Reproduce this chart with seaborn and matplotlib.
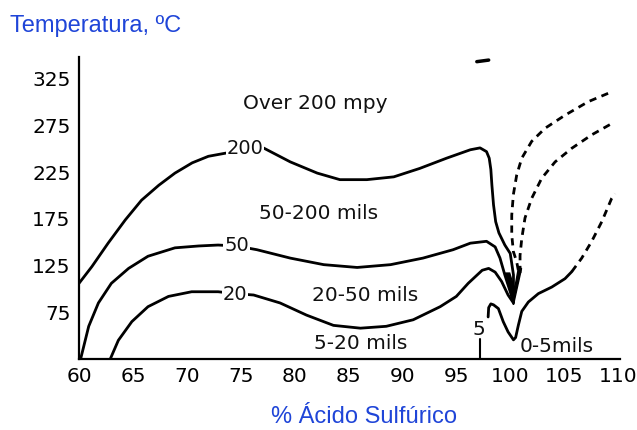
import matplotlib
matplotlib.use('Agg')

import matplotlib.pyplot as plt
import seaborn as sns
import pandas as pd

# iso-corrosion curves (x = % sulfuric acid, y = temperature C)
c200_x = [60.0, 61.2, 62.7, 64.3, 65.8, 67.4, 68.9, 70.5, 72.0, 73.9, 75.4, 77.1,
          79.6, 82.1, 84.2, 86.7, 89.2, 91.6, 94.1, 96.3, 97.2, 97.8, 98.05, 98.2,
          98.3, 98.45, 98.65, 98.95, 99.5, 100.0, 100.3, 100.3]
c200_y = [106, 124, 149, 174, 195, 211, 224, 235, 242, 246, 249, 251,
          236, 224, 217, 217, 220, 229, 240, 249, 251, 247, 240, 228,
          211, 190, 172, 160, 147, 138, 115, 86]

c50_x = [60.15, 60.9, 61.8, 63.0, 64.6, 66.4, 68.9, 71.1, 72.9, 74.6, 76.5, 79.6,
         82.7, 85.8, 88.9, 91.9, 94.7, 96.3, 97.8, 98.6, 99.05, 99.5, 100.0, 100.3]
c50_y = [25, 60, 85, 106, 122, 135, 144, 146, 147, 146, 142, 133,
         126, 123, 126, 133, 142, 149, 151, 145, 133, 115, 97, 86]

c20_x = [62.9, 63.65, 64.9, 66.4, 68.3, 70.45, 72.9, 74.5, 76.2, 78.65, 81.1, 83.6,
         86.1, 88.5, 91.0, 93.5, 95.0, 96.1, 97.4, 98.0, 98.6, 99.2, 99.8, 100.3]
c20_y = [25, 45, 65, 81, 92, 97, 97, 95, 93.5, 85, 72, 61,
         58, 60, 67, 81, 92, 106, 120, 122, 118, 108, 93.5, 85]

c5_x = [97.95, 98.0, 98.2, 98.45, 98.9, 99.35, 99.8, 100.3, 100.5, 100.75, 101.07,
        101.68, 102.61, 103.85, 105.08, 105.71]
c5_y = [70, 80, 84, 83, 79, 65, 54, 45.5, 48, 61, 76,
        86, 95, 102, 111, 118.5]

c5_dash_x = [105.71, 106.63, 107.56, 108.49, 109.41, 109.72]
c5_dash_y = [118.5, 133, 151, 172, 197, 202]

d1_x = [100.75, 100.6, 100.29, 100.14, 100.14, 100.29, 100.6, 101.07, 101.99,
        103.23, 105.08, 107.24, 109.41]
d1_y = [120, 129, 140, 158, 179, 201, 222, 240, 258, 272, 286, 300.5, 311]

d2_x = [100.91, 100.91, 101.07, 101.37, 101.99, 102.92, 104.16, 105.71, 107.56, 109.41]
d2_y = [117, 136, 154, 176, 197, 218.5, 236, 250.6, 265, 277]

# blotted notch where the curves meet near 100 %
notch_x = [99.55, 100.3, 101.05, 100.75, 100.4, 99.95]
notch_y = [117, 83, 122, 122, 100, 117]

x_ticks = [60, 65, 70, 75, 80, 85, 90, 95, 100, 105, 110]
y_ticks = [75, 125, 175, 225, 275, 325]

# region / curve labels: (text, x, y)
labels = [
    ('Over 200 mpy', 81.9, 299),
    ('50-200 mils', 82.2, 181),
    ('20-50 mils', 86.5, 93),
    ('5-20 mils', 86.1, 42),
    ('0-5mils', 104.3, 38),
    ('5', 97.1, 57),
]
curve_labels = [('200', 75.4, 250), ('50', 74.6, 146), ('20', 74.5, 94)]

sns.set_style('white')
plt.rcParams['font.family'] = ['DejaVu Sans']

fig = plt.figure(figsize=(6.37, 4.30), dpi=100)
ax = fig.add_axes([79 / 637, 71 / 430, 541.2 / 637, 302 / 430])

solid = [(c200_x, c200_y), (c50_x, c50_y), (c20_x, c20_y), (c5_x, c5_y)]
for xs, ys in solid:
    df = pd.DataFrame({'acid': xs, 'temp': ys})
    sns.lineplot(data=df, x='acid', y='temp', sort=False, estimator=None,
                 color='black', lw=2, ax=ax)

dashed = [(c5_dash_x, c5_dash_y), (d1_x, d1_y), (d2_x, d2_y)]
for xs, ys in dashed:
    df = pd.DataFrame({'acid': xs, 'temp': ys})
    sns.lineplot(data=df, x='acid', y='temp', sort=False, estimator=None,
                 color='black', lw=2, ls=(0, (2.6, 2)), ax=ax)

ax.fill(notch_x, notch_y, color='black', lw=1)

# long tick marking the "5" curve, and a stray mark from the scan
ax.plot([97.15, 97.15], [25, 46], color='black', lw=1.5)
ax.plot([96.9, 98.0], [343.3, 345], color='black', lw=2.5, clip_on=False)

for txt, x, y in labels:
    ax.text(x, y, txt, ha='center', va='center', fontsize=14.5, color='#111111')
for txt, x, y in curve_labels:
    ax.text(x, y, txt, ha='center', va='center', fontsize=14, color='#111111',
            bbox=dict(fc='white', ec='none', pad=0.6))

ax.set_xlim(60, 110.2)
ax.set_ylim(25, 348.3)
ax.set_xticks(x_ticks)
ax.set_yticks(y_ticks)
ax.set_xlabel('')
ax.set_ylabel('')
ax.tick_params(direction='in', length=6, width=1.5, colors='black',
               labelsize=14.5, pad=6)
for side in ['top', 'right']:
    ax.spines[side].set_visible(False)
for side in ['left', 'bottom']:
    ax.spines[side].set_color('black')
    ax.spines[side].set_linewidth(1.6)

blue = '#1f45d8'
fig.text(10 / 637, (430 - 32) / 430, 'Temperatura, ºC', color=blue,
         fontsize=17, family='Liberation Sans', ha='left', va='baseline')
fig.text(364 / 637, 2 / 430, '% Ácido Sulfúrico', color=blue,
         fontsize=17, family='Liberation Sans', ha='center', va='bottom')

fig.savefig('out.png', dpi=100)
